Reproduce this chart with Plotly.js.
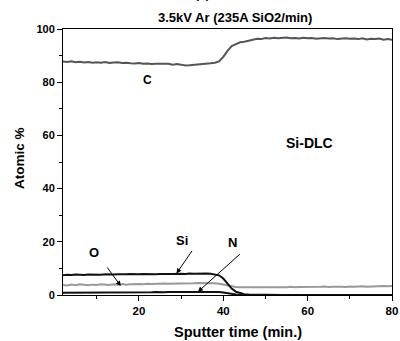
<!DOCTYPE html>
<html>
<head>
<meta charset="utf-8">
<script src="https://cdn.plot.ly/plotly-3.0.1.min.js"></script>
<style>html,body{margin:0;padding:0;background:#fff;}#chart{width:400px;height:341px;}</style>
</head>
<body>
<div id="chart"></div>
<script>
// Sputter time (min.)
const time = [2,3,4,5,6,7,8,9,10,11,12,13,14,15,16,17,18,19,20,21,22,23,24,25,26,27,28,29,30,31,32,33,34,35,36,37,38,39,40,41,42,43,44,45,46,47,48,49,50,51,52,53,54,55,56,57,58,59,60,61,62,63,64,65,66,67,68,69,70,71,72,73,74,75,76,77,78,79,80];
const carbon = [87.8,87.6,87.9,87.5,87.7,87.4,87.6,87.3,87.5,87.3,87.6,87.2,87.4,87.5,87.2,87.3,87.1,87.0,87.2,86.9,87.0,86.8,86.9,86.9,86.7,86.9,86.6,86.8,86.6,86.3,86.4,86.5,86.7,86.9,87.0,87.1,87.3,87.8,89.5,91.8,93.6,94.4,95.0,95.2,95.6,95.9,96.3,96.2,96.6,96.4,96.7,96.5,96.6,96.8,96.5,96.6,96.4,96.7,96.5,96.6,96.3,96.5,96.6,96.4,96.5,96.2,96.4,96.5,96.3,96.4,96.2,96.5,96.1,96.3,96.2,96.4,96.0,96.2,96.0];
const silicon = [7.4,7.6,7.5,7.7,7.6,7.5,7.7,7.6,7.7,7.6,7.8,7.7,7.7,7.8,7.7,7.8,7.9,7.8,7.8,7.9,7.8,7.9,7.8,7.9,8.0,7.9,7.9,8.0,8.0,7.9,8.1,8.0,8.1,8.0,8.1,8.0,7.8,7.4,6.2,4.3,2.4,1.2,0.6,0.3,0.15,0.1,0.05,0,0,0,0,0,0,0,0,0,0,0,0,0,0,0,0,0,0,0,0,0,0,0,0,0,0,0,0,0,0,0,0];
const oxygen = [3.8,3.6,3.9,3.7,4.0,3.8,3.7,3.9,3.8,4.0,3.9,3.8,4.0,3.9,4.1,3.9,4.0,4.1,4.1,4.0,4.2,4.1,4.2,4.1,4.3,4.2,4.2,4.3,4.3,4.4,4.3,4.4,4.5,4.5,4.4,4.5,4.4,4.2,3.9,3.5,3.2,3.0,2.9,2.9,3.0,2.8,2.9,3.0,2.9,2.8,3.0,2.9,3.0,2.9,3.1,2.9,3.0,3.0,2.9,3.1,3.0,3.1,3.2,3.0,3.1,3.2,3.1,3.0,3.2,3.1,3.2,3.3,3.1,3.2,3.3,3.2,3.4,3.3,3.4];
const nitrogen = [0.8,0.8,0.9,0.8,0.8,0.9,0.8,0.9,0.9,0.8,0.9,0.9,1.0,0.9,0.9,1.0,0.9,1.0,0.9,1.0,1.0,1.0,1.1,1.0,1.0,1.1,1.1,1.0,1.1,1.1,1.2,1.1,1.2,1.2,1.2,1.2,1.2,1.1,0.9,0.6,0.35,0.2,0.1,0.05,0,0,0,0,0,0,0,0,0,0,0,0,0,0,0,0,0,0,0,0,0,0,0,0,0,0,0,0,0,0,0,0,0,0,0];
const xTicks = [20,40,60,80];
const yTicks = [0,20,40,60,80,100];

const FONT = 'Liberation Sans, Arial, Helvetica, sans-serif';
const bold = (size) => ({family: FONT, size: size, color: '#000', weight: 'bold'});

const traces = [
  {x: time, y: carbon, mode: 'lines', line: {color: '#555555', width: 2}, name: 'C'},
  {x: time, y: oxygen, mode: 'lines', line: {color: '#999999', width: 2}, name: 'O'},
  {x: time, y: silicon, mode: 'lines', line: {color: '#111111', width: 2}, name: 'Si'},
  {x: time, y: nitrogen, mode: 'lines', line: {color: '#111111', width: 2}, name: 'N'}
];

const arrow = (x, y, ax, ay) => ({x: x, y: y, xref: 'x', yref: 'y', text: '', showarrow: true,
  arrowhead: 2, arrowsize: 1, arrowwidth: 1, arrowcolor: '#000', ax: ax, ay: ay, standoff: 0});
const label = (x, y, t, s) => ({x: x, y: y, xref: 'x', yref: 'y', text: t, showarrow: false, font: bold(s)});

const layout = {
  width: 400, height: 341,
  margin: {l: 63, r: 8, t: 29, b: 46, pad: 0},
  paper_bgcolor: '#fff', plot_bgcolor: '#fff',
  showlegend: false,
  xaxis: {
    range: [2, 80], tickvals: xTicks, ticktext: xTicks.map(String),
    ticks: 'outside', ticklen: 5, tickwidth: 1, tickcolor: '#000',
    minor: {tickvals: [10,30,50,70], ticks: 'outside', ticklen: 3, tickcolor: '#000'},
    showline: true, linecolor: '#000', linewidth: 1, mirror: true,
    showgrid: false, zeroline: false, tickfont: bold(11.5)
  },
  yaxis: {
    range: [0, 100], tickvals: yTicks, ticktext: yTicks.map(String),
    ticks: 'outside', ticklen: 5, tickwidth: 1, tickcolor: '#000',
    minor: {tickvals: [10,30,50,70,90], ticks: 'outside', ticklen: 3, tickcolor: '#000'},
    showline: true, linecolor: '#000', linewidth: 1, mirror: true,
    showgrid: false, zeroline: false, tickfont: bold(11)
  },
  annotations: [
    {xref: 'paper', yref: 'paper', x: (238 - 63) / 329, y: -(331.7 - 295) / 266, text: 'Sputter time (min.)', showarrow: false, font: bold(14.5), yanchor: 'middle', xanchor: 'center'},
    {xref: 'paper', yref: 'paper', x: (19 - 63) / 329, y: (295 - 158) / 266, text: 'Atomic %', textangle: -90, showarrow: false, font: bold(13.5), yanchor: 'middle', xanchor: 'center'},
    {xref: 'paper', yref: 'paper', x: (314 - 63) / 329, y: 1 + (29 - 17) / 266, text: '3.5kV Ar (235A SiO2/min)', showarrow: false, font: bold(13), yanchor: 'middle'},
    {xref: 'paper', yref: 'paper', x: (202 - 63) / 329, y: 1 + (29 - 3) / 266, text: '(a)', showarrow: false, font: bold(12), yanchor: 'bottom'},
    label(22.1, 81, 'C', 12),
    label(60.5, 57.2, 'Si-DLC', 14),
    label(9.4, 15.8, 'O', 13),
    label(30.2, 20.6, 'Si', 13),
    label(42.2, 19.9, 'N', 13),
    arrow(15.7, 3.4, -14.7, -20),
    arrow(28.9, 8.1, 16.6, -24),
    arrow(34.0, 1.2, 43.4, -39)
  ]
};

Plotly.newPlot('chart', traces, layout, {staticPlot: true, displayModeBar: false});
</script>
</body>
</html>
